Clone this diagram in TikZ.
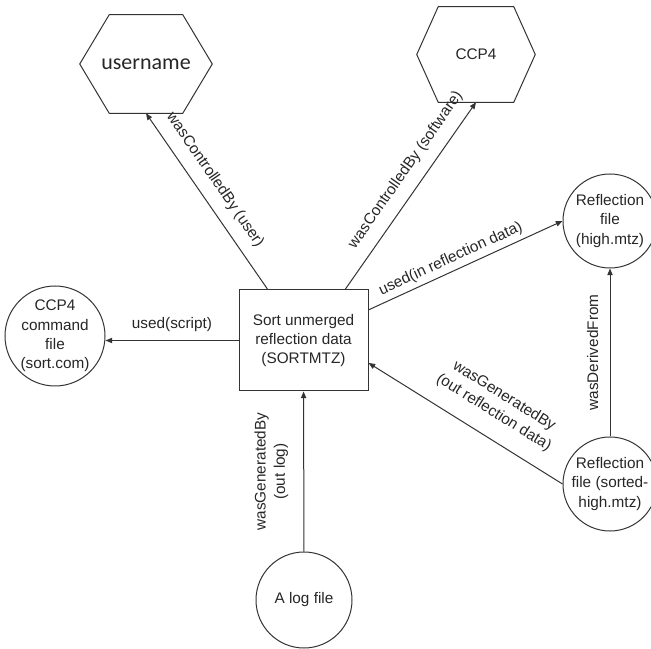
\documentclass[tikz,border=0pt]{standalone}
\usepackage{fontspec}
\setmainfont{Liberation Sans}
\newfontfamily\calibri{Carlito}
\usetikzlibrary{arrows.meta, positioning, calc}

\tikzset{
  every node/.style={font=\fontsize{11.5}{14.5}\selectfont, text=black!85},
  process/.style={
    draw=black!80, line width=0.75pt, rectangle, align=center,
    minimum width=96.75pt, minimum height=75.75pt, inner sep=2pt
  },
  agent/.style={rectangle, inner sep=0pt},
  hexline/.style={draw=black!80, line width=0.75pt, line join=miter},
  artifact/.style={
    draw=black!80, line width=0.75pt, circle, minimum size=70.5pt, inner sep=0pt,
    label={[align=center]center:#1}
  },
  arr/.style={-{Triangle[length=5pt,width=4pt]}, line width=0.75pt, draw=black!80},
  edgelbl/.style={sloped, above, align=center},
}
% hexagon outline round an agent node: #1 node, #2 corner cut
\newcommand{\hexoutline}[2]{%
  \draw[hexline] (#1.west) -- ([xshift=#2]#1.north west) -- ([xshift=-#2]#1.north east)
    -- (#1.east) -- ([xshift=-#2]#1.south east) -- ([xshift=#2]#1.south west) -- cycle;}

\begin{document}
\begin{tikzpicture}[x=0.75pt, y=-0.75pt]
  \useasboundingbox (0,0) rectangle (651,649);
  % nodes
  \node[process] (sort) at (303.5,340.5) {Sort unmerged\\reflection data\\(SORTMTZ)};
  \node[agent, minimum width=99pt, minimum height=73.5pt] (user) at (146,64)
        {\calibri\fontsize{16.5}{18}\selectfont username};
  \node[agent, minimum width=88.5pt, minimum height=71.25pt] (ccp4) at (476,54.5) {CCP4};
  \hexoutline{user}{22.1pt}
  \hexoutline{ccp4}{16.1pt}
  \node[artifact={CCP4\\command\\file\\(sort.com)}, minimum size=75pt] (script) at (55,336) {};
  \node[artifact={Reflection\\file\\(high.mtz)}] (high) at (610,221) {};
  \node[artifact={Reflection\\file (sorted-\\high.mtz)}] (sorted) at (610,484) {};
  \node[artifact={A log file}, minimum size=72pt] (log) at (304,600) {};
  % arrows
  \draw[arr] ($(sort.north west)!0.225!(sort.north east)$) -- node[edgelbl, pos=0.56, above=5pt] {wasControlledBy (user)} (user.south);
  \draw[arr] ($(sort.north west)!0.82!(sort.north east)$) -- node[edgelbl, pos=0.58, above=5pt] {wasControlledBy (software)} (ccp4.south);
  \draw[arr] ($(sort.north east)!0.2!(sort.south east)$) -- node[edgelbl, pos=0.45] {used(in reflection data)} (high.west);
  \draw[arr] (sort.west) -- node[above=3pt] {used(script)} (sort.west -| script.east);
  \draw[arr] (sorted.west) -- node[edgelbl, pos=0.42, above=9pt] {wasGeneratedBy\\(out reflection data)} ($(sort.north east)!0.72!(sort.south east)$);
  \draw[arr] (log) -- node[edgelbl, allow upside down, above=8pt] {wasGeneratedBy\\(out log)} (sort);
  \draw[arr] (sorted) -- node[edgelbl, allow upside down, above=5pt] {wasDerivedFrom} (high);
\end{tikzpicture}
\end{document}
